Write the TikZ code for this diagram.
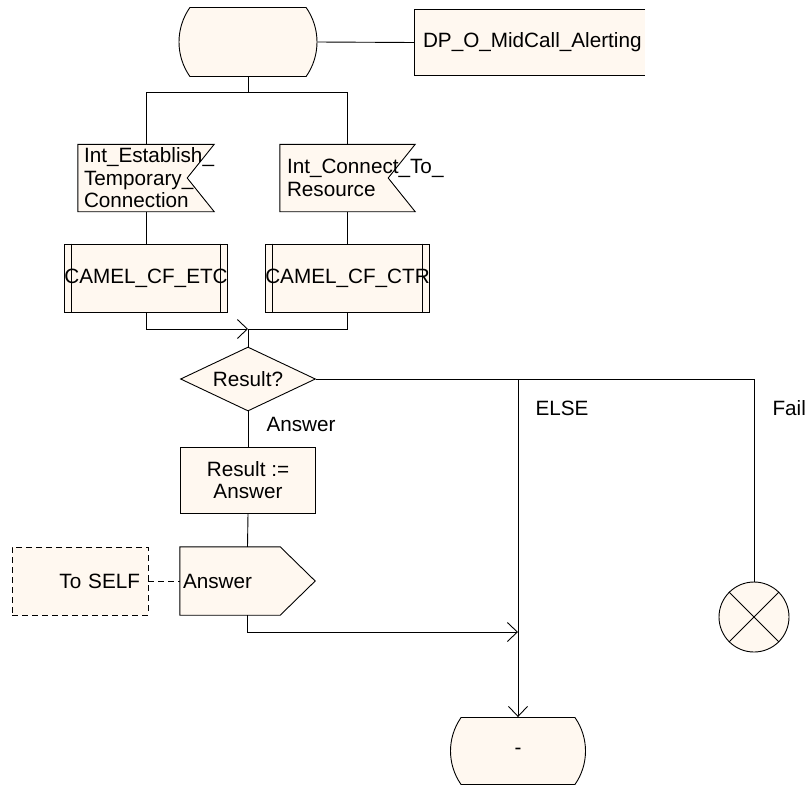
\documentclass[tikz,border=0pt]{standalone}
\usepackage{fontspec}
\setmainfont{Liberation Sans}
\usetikzlibrary{shapes.geometric,shapes.misc,backgrounds,arrows.meta}
\definecolor{sdlfill}{RGB}{255,248,240}
\tikzset{
  line/.style={line width=0.9pt},
  sdl/.style={line, draw, fill=sdlfill, inner sep=0pt},
  statebox/.style={sdl, rounded rectangle, rounded rectangle arc length=70, minimum width=138pt, minimum height=69pt},
  procbox/.style={sdl, rectangle, minimum width=136pt, minimum height=68pt},
  taskbox/.style={sdl, rectangle, minimum width=135pt, minimum height=66pt, align=center},
  decbox/.style={sdl, diamond, aspect=2.1, minimum width=135pt, minimum height=64pt},
  sigbox/.style={rectangle, inner sep=0pt, minimum height=67pt, align=left},
  stopbox/.style={sdl, circle, minimum size=70pt},
  dashline/.style={line, dash pattern=on 6pt off 4pt},
  arr/.style={line, -{Straight Barb[length=10pt,width=19pt]}},
}
\begin{document}
\begin{tikzpicture}[x=1pt, y=-1pt, font=\fontsize{20.7}{22.5}\selectfont]
        \useasboundingbox (0,0) rectangle (805,785);
        \def\nS{27}
        \def\pS{35}
        \def\iS{8}
        % 开始状态和注释
        \node[statebox] (start) at (248,42) {};
        \node[rectangle, fill=sdlfill, inner xsep=8pt, inner ysep=0pt, minimum height=65pt, text width=214pt, align=left] (dp) at (530,42.5) {DP\_O\_MidCall\_Alerting};
        \draw[line] (dp.north east) -- (dp.north west) -- (dp.south west) -- (dp.south east);
        \draw[line] (start.east) -- (dp.west);
        % 输入信号
        \node[sigbox, minimum width=136pt, text width=124pt] (sig1) at (146,178) {Int\_Establish\_\\Temporary\_\\Connection};
        \node[sigbox, minimum width=135pt, text width=121pt] (sig2) at (347.5,178) {Int\_Connect\_To\_\\Resource};
        % 过程
        \node[procbox] (proc1) at (146,278) {CAMEL\_CF\_ETC};
        \node[procbox] (proc2) at (347.5,278) {CAMEL\_CF\_CTR};
        \foreach \p in {proc1,proc2}{
            \draw[line] ([xshift=\iS pt]\p.north west) -- ([xshift=\iS pt]\p.south west);
            \draw[line] ([xshift=-\iS pt]\p.north east) -- ([xshift=-\iS pt]\p.south east);
        }
        % 判断和任务
        \node[decbox] (dec) at (248,379) {Result?};
        \node[taskbox] (task) at (248,480) {Result :=\\Answer};
        % 输出信号
        \node[sigbox, minimum width=135pt, minimum height=68pt, text width=129pt] (out) at (247.5,581) {Answer};
        \node[sdl, dash pattern=on 6pt off 4pt, minimum width=136pt, minimum height=68pt, text width=120pt, align=right] (self) at (80,581) {To SELF};
        % 结束
        \node[stopbox] (fail) at (754,617) {};
        \draw[line] (fail.north west) -- (fail.south east);
        \draw[line] (fail.north east) -- (fail.south west);
        \node[statebox, minimum width=135pt, minimum height=67pt] (fin) at (518,751) {-};
        % 信号外形
        \begin{scope}[on background layer]
            \draw[sdl] (sig1.north west) -- (sig1.north east) -- ([xshift=-\nS pt]sig1.east) -- (sig1.south east) -- (sig1.south west) -- cycle;
            \draw[sdl] (sig2.north west) -- (sig2.north east) -- ([xshift=-\nS pt]sig2.east) -- (sig2.south east) -- (sig2.south west) -- cycle;
            \draw[sdl] (out.north west) -- ([xshift=-\pS pt]out.north east) -- (out.east) -- ([xshift=-\pS pt]out.south east) -- (out.south west) -- cycle;
        \end{scope}
        % 连线
        \coordinate (b1) at (248,92);
        \coordinate (m1) at (248,329);
        \coordinate (m2) at (518,632);
        \draw[line] (start.south) -- (b1);
        \draw[line] (b1) -| (sig1.north);
        \draw[line] (b1) -| (sig2.north);
        \draw[line] (sig1.south) -- (proc1.north);
        \draw[line] (sig2.south) -- (proc2.north);
        \draw[arr] (proc1.south) |- (m1);
        \draw[line] (proc2.south) |- (m1);
        \draw[line] (m1) -- (dec.north);
        \draw[line] (dec.south) -- (task.north);
        \draw[line] (task.south) -- (out.north);
        \draw[dashline] (self.east) -- (out.west);
        \draw[arr] (out.south) |- (m2);
        \draw[arr] (dec.east) -| (fin.north);
        \draw[line] (dec.east) -| (fail.north);
        % 标签
        \node[anchor=west] (lans) at (263,424) {Answer};
        \node[anchor=west] (lelse) at (532,408) {ELSE};
        \node[anchor=west] (lfail) at (769,408) {Fail};
\end{tikzpicture}
\end{document}
